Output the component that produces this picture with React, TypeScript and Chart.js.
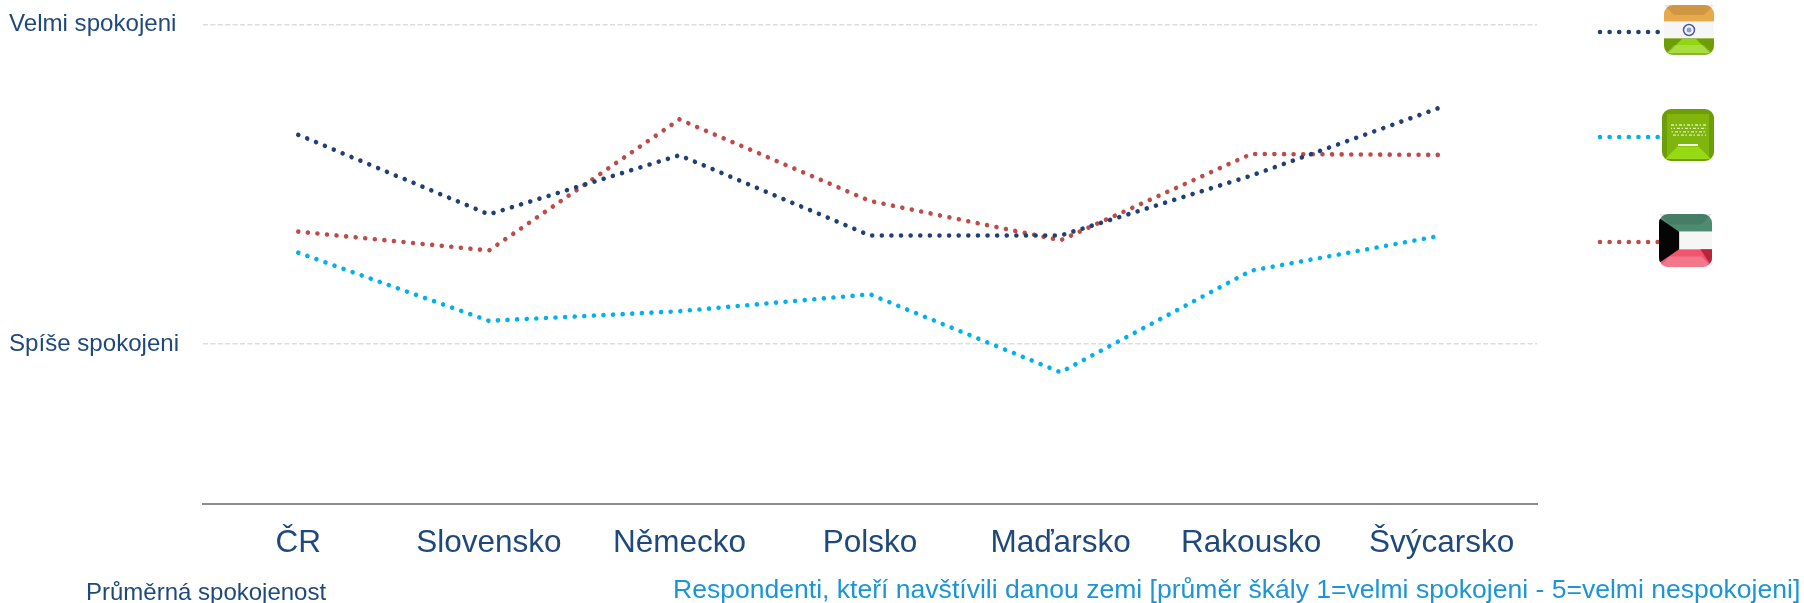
import React, { useEffect, useRef } from "react";
import { Chart, registerables } from "chart.js";

Chart.register(...registerables);

const categories = ["ČR", "Slovensko", "Německo", "Polsko", "Maďarsko", "Rakousko", "Švýcarsko"];
const india = [1.345, 1.594, 1.409, 1.66, 1.66, 1.473, 1.258];
const saudi = [1.714, 1.927, 1.897, 1.844, 2.088, 1.77, 1.66];
const kuwait = [1.648, 1.707, 1.297, 1.552, 1.675, 1.405, 1.408];
const yLabels: Record<number, string> = { 1: "Velmi spokojeni", 2: "Spíše spokojeni" };
const leftNote = "Průměrná spokojenost";
const rightNote = "Respondenti, kteří navštívili danou zemi [průměr škály 1=velmi spokojeni - 5=velmi nespokojeni]";

const NAVY = "#1F3F77";
const CYAN = "#00B0F0";
const RED = "#BE4B48";
const TEXT = "#1F497D";
const FONT = "'Liberation Sans', Arial, sans-serif";
const DASH = [0.01, 9.6];

function rr(c: CanvasRenderingContext2D, x: number, y: number, s: number, r: number) {
  c.beginPath();
  c.roundRect(x, y, s, s, r);
}

function bevel(c: CanvasRenderingContext2D, x: number, y: number, s: number) {
  const i = s * 0.2;
  c.fillStyle = "rgba(255,255,255,0.2)";
  c.beginPath();
  c.moveTo(x, y + s);
  c.lineTo(x + i, y + s - i);
  c.lineTo(x + s - i, y + s - i);
  c.lineTo(x + s, y + s);
  c.fill();
  c.fillStyle = "rgba(0,0,0,0.1)";
  c.beginPath();
  c.moveTo(x, y);
  c.lineTo(x + i, y + i);
  c.lineTo(x + s - i, y + i);
  c.lineTo(x + s, y);
  c.fill();
}

function flagIndia(c: CanvasRenderingContext2D, x: number, y: number, s: number) {
  c.save();
  rr(c, x, y, s, 9);
  c.clip();
  c.fillStyle = "#E7A94B";
  c.fillRect(x, y, s, s / 3);
  c.fillStyle = "#F6F6F6";
  c.fillRect(x, y + s / 3, s, s / 3);
  c.fillStyle = "#6E9E06";
  c.fillRect(x, y + (2 * s) / 3, s, s / 3);
  c.fillStyle = "#93D60F";
  c.beginPath();
  c.moveTo(x + 4, y + s - 2);
  c.lineTo(x + s * 0.36, y + s * 0.68);
  c.lineTo(x + s * 0.64, y + s * 0.68);
  c.lineTo(x + s - 4, y + s - 2);
  c.fill();
  c.strokeStyle = "#4A5AA8";
  c.lineWidth = 1.5;
  c.beginPath();
  c.arc(x + s / 2, y + s / 2, 5.5, 0, Math.PI * 2);
  c.stroke();
  c.fillStyle = "#8FA0CE";
  c.beginPath();
  c.arc(x + s / 2, y + s / 2, 2.5, 0, Math.PI * 2);
  c.fill();
  c.restore();
}

function flagSaudi(c: CanvasRenderingContext2D, x: number, y: number, s: number) {
  c.save();
  rr(c, x, y, s, 9);
  c.clip();
  c.fillStyle = "#6C9E08";
  c.fillRect(x, y, s, s);
  c.fillStyle = "#7FB50C";
  c.fillRect(x + 5, y + 5, s - 10, s - 10);
  c.fillStyle = "#98DA12";
  c.beginPath();
  c.moveTo(x + 3, y + s - 2);
  c.lineTo(x + s * 0.3, y + s * 0.72);
  c.lineTo(x + s * 0.7, y + s * 0.72);
  c.lineTo(x + s - 3, y + s - 2);
  c.fill();
  c.strokeStyle = "rgba(240,245,225,0.85)";
  c.lineWidth = 1.3;
  for (let r = 0; r < 4; r++) {
    c.setLineDash([3, 1.5, 1.5, 2]);
    c.lineDashOffset = r * 2;
    c.beginPath();
    c.moveTo(x + 9, y + 16 + r * 3.4);
    c.lineTo(x + s - 8, y + 16 + r * 3.4);
    c.stroke();
  }
  c.setLineDash([]);
  c.strokeStyle = "#F4F8E6";
  c.lineWidth = 2;
  c.beginPath();
  c.moveTo(x + 16, y + 36);
  c.lineTo(x + s - 16, y + 36);
  c.stroke();
  c.restore();
}

function flagKuwait(c: CanvasRenderingContext2D, x: number, y: number, s: number) {
  c.save();
  rr(c, x, y, s, 9);
  c.clip();
  c.fillStyle = "#4E8C72";
  c.fillRect(x, y, s, s / 3);
  c.fillStyle = "#F6F6F6";
  c.fillRect(x, y + s / 3, s, s / 3);
  c.fillStyle = "#F1556D";
  c.fillRect(x, y + (2 * s) / 3, s, s / 3);
  c.fillStyle = "#B9243C";
  c.beginPath();
  c.moveTo(x + s, y + (2 * s) / 3);
  c.lineTo(x + s * 0.78, y + (2 * s) / 3);
  c.lineTo(x + s, y + s);
  c.fill();
  c.fillStyle = "#050505";
  c.beginPath();
  c.moveTo(x, y + 4);
  c.lineTo(x + s * 0.38, y + s / 3);
  c.lineTo(x + s * 0.38, y + (2 * s) / 3);
  c.lineTo(x, y + s - 4);
  c.fill();
  c.restore();
}

const decor = {
  id: "decor",
  afterDraw(chart: any) {
    const c: CanvasRenderingContext2D = chart.ctx;
    c.save();
    const rows: [string, number][] = [
      [NAVY, 32],
      [CYAN, 137],
      [RED, 242],
    ];
    rows.forEach(([col, y]) => {
      c.strokeStyle = col;
      c.lineWidth = 4.6;
      c.lineCap = "round";
      c.setLineDash(DASH);
      c.beginPath();
      c.moveTo(1600, y);
      c.lineTo(1659, y);
      c.stroke();
    });
    c.setLineDash([]);
    c.lineCap = "butt";

    (c as any).filter = "blur(0.7px)";
    flagIndia(c, 1664, 5, 50);
    bevel(c, 1664, 5, 50);
    flagSaudi(c, 1662, 109, 52);
    flagKuwait(c, 1659, 214, 53);
    bevel(c, 1659, 214, 53);
    (c as any).filter = "none";

    c.textBaseline = "alphabetic";
    c.textAlign = "left";
    c.font = `24px ${FONT}`;
    c.fillStyle = TEXT;
    c.fillText(leftNote, 86, 600);
    c.font = `26.55px ${FONT}`;
    c.fillStyle = "#1B95D8";
    c.fillText(rightNote, 673, 598);
    c.restore();
  },
};

const series = [
  { label: "Indie", data: india, color: NAVY },
  { label: "Saúdská Arábie", data: saudi, color: CYAN },
  { label: "Kuvajt", data: kuwait, color: RED },
];

export default function App() {
  const ref = useRef<HTMLCanvasElement>(null);
  useEffect(() => {
    const prevMargin = document.body.style.margin;
    document.body.style.margin = "0";
    const chart = new Chart(ref.current!, {
      type: "line",
      data: {
        labels: categories,
        datasets: series.map((s) => ({
          label: s.label,
          data: s.data,
          borderColor: s.color,
          backgroundColor: s.color,
          borderWidth: 4.6,
          borderDash: DASH,
          borderCapStyle: "round",
          borderJoinStyle: "round",
          pointRadius: 0,
          tension: 0,
          fill: false,
        })),
      },
      options: {
        animation: false,
        responsive: false,
        layout: { padding: { top: 24.5, left: 9, right: 267, bottom: 0 } },
        plugins: { legend: { display: false }, tooltip: { enabled: false }, title: { display: false } },
        scales: {
          x: {
            offset: true,
            grid: { display: false },
            border: { display: true, color: "#8C8C8C", width: 2 },
            ticks: {
              color: TEXT,
              font: { family: FONT, size: 31.5 },
              padding: 12,
              maxRotation: 0,
              autoSkip: false,
            },
            afterFit(scale: any) {
              scale.height = 99;
            },
          },
          y: {
            reverse: true,
            min: 1,
            max: 2.5,
            grid: {
              color: "#DDDDDD",
              lineWidth: 1.5,
              tickLength: 0,
              drawTicks: false,
            },
            border: { display: false, dash: [5, 2.4] },
            ticks: {
              color: TEXT,
              font: { family: FONT, size: 24.1 },
              stepSize: 1,
              includeBounds: false,
              crossAlign: "far",
              padding: 0,
              callback: (v: any) => yLabels[v as number] ?? "",
            },
            afterFit(scale: any) {
              scale.width = 194;
            },
          },
        },
      },
      plugins: [decor],
    } as any);
    return () => {
      chart.destroy();
      document.body.style.margin = prevMargin;
    };
  }, []);
  return <canvas ref={ref} width={1804} height={603} style={{ display: "block" }} />;
}
